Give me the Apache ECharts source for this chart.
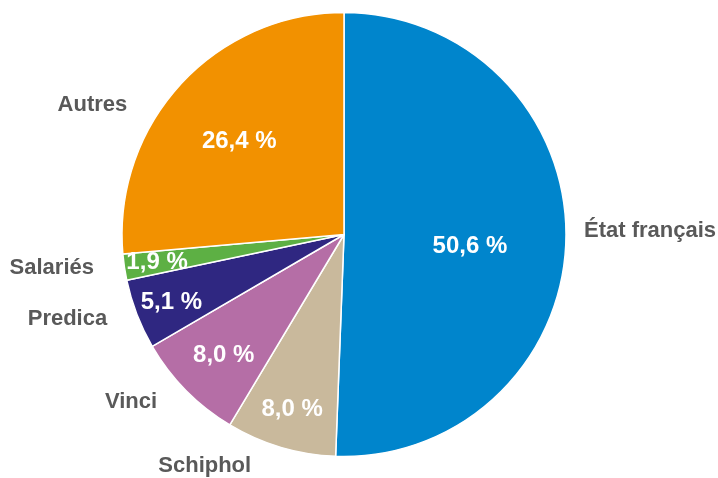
<!DOCTYPE html>
<html>
<head>
<meta charset="utf-8">
<script src="https://cdn.jsdelivr.net/npm/echarts@6/dist/echarts.min.js"></script>
<style>
  html, body { margin: 0; padding: 0; background: #ffffff; }
  #chart { width: 718px; height: 478px; }
</style>
</head>
<body>
<div id="chart"></div>
<script>
// ---- data ----
var categories = ['État français', 'Schiphol', 'Vinci', 'Predica', 'Salariés', 'Autres'];
var shares = [50.6, 8.0, 8.0, 5.1, 1.9, 26.4];

// ---- styles / label placement (not data) ----
var sliceColors = ['#0085CC', '#C9B99C', '#B56EA6', '#2F2781', '#5DB044', '#F29100'];
var pieCenter = [344, 234.5];
var pieRadius = 222;
var valueLabelRadius = [123, 179, 166, 182, 186, 139];
var valueShiftDown = [10, 0, 2, 1, 0, 3];   // px, vertical nudge of value labels
var nameBaseRadius = 180;
var nameLen = [1, 61.5, 58, 55, 47.5, 11.5];
var nameLen2 = [54, 19, 12.5, 12.5, 20, 70.5];
var nameShiftUp = [7, 0, 0, 0, 0, 0];      // px, vertical nudge of name labels

function fmt(v) { return v.toFixed(1).replace('.', ',') + ' %'; }

var series = [];

// main pie
series.push({
  type: 'pie',
  center: pieCenter,
  radius: [0, pieRadius],
  startAngle: 90,
  clockwise: true,
  silent: true,
  avoidLabelOverlap: false,
  label: { show: false },
  labelLine: { show: false },
  itemStyle: { borderColor: '#ffffff', borderWidth: 1.5 },
  data: categories.map(function (c, i) {
    return { name: c, value: shares[i], itemStyle: { color: sliceColors[i] } };
  })
});

// value labels (inside), one transparent layer per slice
categories.forEach(function (c, k) {
  series.push({
    type: 'pie',
    center: pieCenter,
    radius: [0, valueLabelRadius[k] * 2],
    startAngle: 90,
    clockwise: true,
    silent: true,
    avoidLabelOverlap: false,
    z: 5,
    itemStyle: { color: 'transparent', borderWidth: 0 },
    emphasis: { disabled: true },
    labelLine: { show: false },
    data: categories.map(function (cc, i) {
      var s = valueShiftDown[i];
      return {
        name: cc,
        value: shares[i],
        label: {
          show: i === k,
          position: 'inside',
          formatter: function (p) { return (s > 0 ? '\n' : '') + fmt(p.value); },
          color: '#ffffff',
          fontFamily: 'Liberation Sans, Arial, sans-serif',
          fontWeight: 'bold',
          fontSize: 24,
          lineHeight: s > 0 ? 2 * s : 28
        }
      };
    })
  });
});

// name labels (outside)
series.push({
  type: 'pie',
  center: pieCenter,
  radius: [0, nameBaseRadius],
  startAngle: 90,
  clockwise: true,
  silent: true,
  avoidLabelOverlap: false,
  z: 5,
  itemStyle: { color: 'transparent', borderWidth: 0 },
  emphasis: { disabled: true },
  data: categories.map(function (c, i) {
    var s = nameShiftUp[i];
    return {
      name: c,
      value: shares[i],
      label: {
        show: true,
        position: 'outside',
        formatter: function (p) { return p.name + (s > 0 ? '\n' : ''); },
        color: '#595959',
        fontFamily: 'Liberation Sans, Arial, sans-serif',
        fontWeight: 'bold',
        fontSize: 22,
        lineHeight: s > 0 ? 2 * s : 26,
        distanceToLabelLine: 5
      },
      labelLine: { show: false, length: nameLen[i], length2: nameLen2[i] }
    };
  })
});

var chart = echarts.init(document.getElementById('chart'), null, { renderer: 'canvas' });
chart.setOption({
  animation: false,
  backgroundColor: '#ffffff',
  tooltip: { show: false },
  series: series
});
</script>
</body>
</html>
